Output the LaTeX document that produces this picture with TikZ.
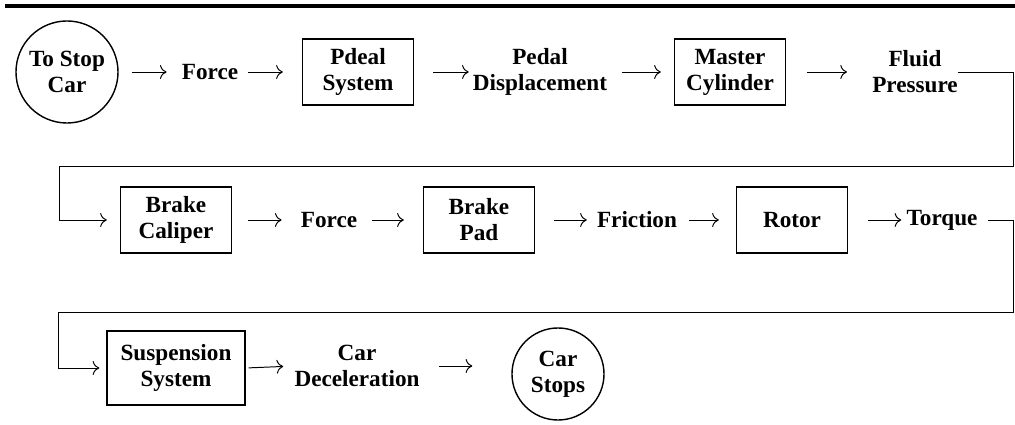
\documentclass[tikz,border=0pt]{standalone}
\usepackage{fontspec}
\setmainfont{Liberation Serif}
\usetikzlibrary{arrows.meta}

\begin{document}
\begin{tikzpicture}[x=0.025cm,y=-0.025cm,>={To[scale=1.5]},
  every node/.style={font=\fontsize{16.5}{18.5}\selectfont\bfseries,align=center},
  blk/.style={draw,line width=1pt,minimum width=2.775cm,minimum height=1.65cm,inner sep=2pt},
  lbl/.style={inner sep=0pt},
  endpt/.style={draw,circle,line width=1pt,inner sep=0pt},
  arr/.style={->,line width=0.7pt}]
\useasboundingbox (0,0) rectangle (1015,425);
\draw[line width=2.5pt] (5,6) -- (1015,6);

% first row
\node[endpt,minimum size=2.55cm] (stop) at (67,72) {To Stop\\Car};
\node[lbl] (force1) at (210,72) {Force};
\node[blk] (pdeal) at (358,72) {Pdeal\\System};
\node[lbl] (pedal) at (540,72) {Pedal\\Displacement};
\node[blk] (master) at (730,72) {Master\\Cylinder};
\node[lbl] (fluid) at (915,72) {Fluid\\Pressure};

\draw[arr,shorten <=.325cm,shorten >=.375cm] (stop.east) -- (force1.west);
\draw[arr,shorten <=.25cm,shorten >=.475cm] (force1.east) -- (pdeal.west);
\draw[arr,shorten <=.475cm,shorten >=.1cm] (pdeal.east) -- (pedal.west);
\draw[arr,shorten <=.375cm,shorten >=.325cm] (pedal.east) -- (master.west);
\draw[arr,shorten <=.525cm,shorten >=.625cm] (master.east) -- (fluid.west);

% second row
\node[blk] (caliper) at (176,220) {Brake\\Caliper};
\node[lbl] (force2) at (329,220) {Force};
\node[blk] (pad) at (479,220) {Brake\\Pad};
\node[lbl] (friction) at (637,220) {Friction};
\node[blk] (rotor) at (792,220) {Rotor};
\node[lbl] (torque) at (942,220) {Torque};

\coordinate (r1) at (1013,166);
\coordinate (l1) at (59,166);
\draw[arr,shorten >=.325cm] (fluid.east) -| (r1) -- (l1) |- (caliper.west);

\draw[arr,shorten <=.4cm,shorten >=.475cm] (caliper.east) -- (force2.west);
\draw[arr,shorten <=.375cm,shorten >=.475cm] (force2.east) -- (pad.west);
\draw[arr,shorten <=.475cm,shorten >=.25cm] (pad.east) -- (friction.west);
\draw[arr,shorten <=.3cm,shorten >=.425cm] (friction.east) -- (rotor.west);
\draw[arr,shorten <=.5cm,shorten >=.125cm] (rotor.east) -- (torque.west);

% third row
\node[blk,minimum width=3.45cm,minimum height=1.85cm] (susp) at (176,368) {Suspension\\System};
\node[lbl] (decel) at (357,366) {Car\\Deceleration};
\node[endpt,minimum size=2.3cm] (cstop) at (558,374) {Car\\Stops};

\coordinate (r2) at (1013,312);
\coordinate (l2) at (58,312);
\draw[arr,shorten <=.25cm,shorten >=.175cm] (torque.east) -| (r2) -- (l2) |- (susp.west);

\draw[arr,shorten <=.075cm,shorten >=.275cm] (susp.east) -- (decel.west);
\draw[arr,shorten <=.475cm,shorten >=.975cm] (decel.east) -- (decel.east -| cstop.west);
\end{tikzpicture}
\end{document}
